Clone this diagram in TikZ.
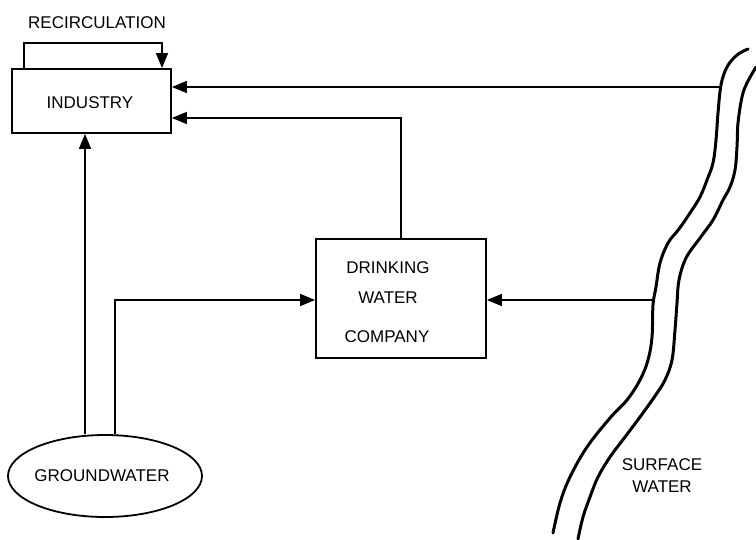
\documentclass[tikz,border=0pt]{standalone}
\usepackage{fontspec}
\setmainfont{Liberation Sans}
\usetikzlibrary{arrows.meta,shapes.geometric,calc}
\begin{document}
\begin{tikzpicture}[x=1pt,y=-1pt,
  every node/.style={font=\fontsize{17}{20}\selectfont},
  box/.style={draw,line width=1.8pt,rectangle,inner sep=0pt},
  oval/.style={draw,line width=1.8pt,ellipse,inner sep=0pt},
  txt/.style={inner sep=0pt,align=center},
  flow/.style={line width=1.6pt,-{Triangle[length=15pt,width=12pt]}},
  bank/.style={line width=3pt,line cap=round,line join=round}]
\useasboundingbox (0,0) rectangle (756,539);
% nodes
\node[box,minimum width=159pt,minimum height=64pt] (industry) at (91.5,101) {};
\node[txt] (industrylabel) at (90,103) {INDUSTRY};
\node[txt] (recirc) at (97,23) {RECIRCULATION};
\node[box,minimum width=170pt,minimum height=119pt] (drinking) at (401,298.5) {};
\node[txt] (drink1) at (388,268) {DRINKING};
\node[txt] (drink2) at (388,298) {WATER};
\node[txt] (drink3) at (387,337) {COMPANY};
\node[oval,minimum width=194pt,minimum height=82pt] (groundwater) at (105,476) {};
\node[txt] (gwlabel) at (102,476) {GROUNDWATER};
\node[txt] (surface) at (662,476) {SURFACE\\[2pt]WATER};
% river
\draw[bank] plot[smooth,tension=0.6] coordinates {(748,49) (737,55) (727,67) (721,85) (718,113) (716,140) (713,163) (707,180) (700,197) (690,213) (679,229) (668,243) (660,263) (656,287) (653,305) (652,337) (648,360) (640,380) (627,400) (610,418) (587,447) (570,477) (560,503) (553,533)};
\draw[bank] plot[smooth,tension=0.6] coordinates {(756,67) (747,83) (742,97) (738,123) (737,147) (735,170) (730,187) (723,200) (713,220) (700,238) (686,258) (679,280) (677,303) (675,330) (672,360) (665,380) (655,396) (640,417) (625,437) (610,457) (598,477) (590,497) (583,517) (578,539)};
% coordinates
\coordinate (r1) at (24,43);
\coordinate (r2) at (162,43);
\coordinate (s1) at (721,87);
\coordinate (s2) at (653,300);
\coordinate (d1) at (401,118);
\coordinate (g1) at (85,300);
\coordinate (g2) at (115,300);
% connectors
\draw[flow] (r1 |- industry.north) -- (r1) -- (r2) -- (r2 |- industry.north);
\draw[flow] (s1) -- (s1 -| industry.east);
\draw[flow] (drinking.north) -- (d1) -- (d1 -| industry.east);
\draw[flow] (g1 |- groundwater.north) -- (g1 |- industry.south);
\draw[flow] (g2 |- groundwater.north) -- (g2) -- (g2 -| drinking.west);
\draw[flow] (s2) -- (s2 -| drinking.east);
\end{tikzpicture}
\end{document}
